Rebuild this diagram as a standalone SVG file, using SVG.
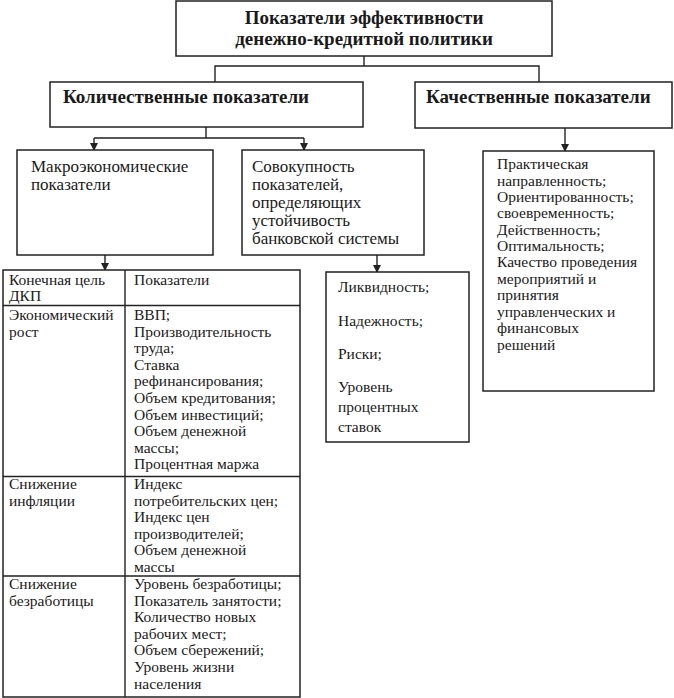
<svg xmlns="http://www.w3.org/2000/svg" width="674" height="698" viewBox="0 0 674 698">
<style>
.box{fill:#fff;stroke:#222;stroke-width:1.5}
.ln{fill:none;stroke:#222;stroke-width:1.4}
text{fill:#1a1a1a;font-family:'Liberation Serif','Times New Roman',serif}
.t{font-size:15.5px}
.m{font-size:17px}
.b{font-size:19px;font-weight:bold}
</style>
<defs>
<marker id="ar" markerWidth="8" markerHeight="8" refX="7" refY="4" orient="auto" markerUnits="userSpaceOnUse">
<path d="M0,0 L8,4 L0,8 Z" fill="#222"/>
</marker>
</defs>
<rect width="674" height="698" fill="#fff"/>
<g id="connectors">
<path class="ln" d="M364,56 V66 M215,82 V66 H539 V82"/>
<path class="ln" d="M206,127 V138 H304 M206,138 H94"/>
<path class="ln" d="M94,138 V150" marker-end="url(#ar)"/>
<path class="ln" d="M304,138 V150" marker-end="url(#ar)"/>
<path class="ln" d="M565,128 V151" marker-end="url(#ar)"/>
<path class="ln" d="M105,255 V270" marker-end="url(#ar)"/>
<path class="ln" d="M377,255 V272" marker-end="url(#ar)"/>
</g>
<g id="root">
<rect class="box" x="176" y="1" width="376" height="55"/>
<text class="b" x="364" y="24" text-anchor="middle">Показатели эффективности</text>
<text class="b" x="364" y="45" text-anchor="middle">денежно-кредитной политики</text>
</g>
<g id="quant">
<rect class="box" x="50" y="82" width="313" height="45"/>
<text class="b" x="63" y="103">Количественные показатели</text>
</g>
<g id="qual">
<rect class="box" x="415" y="82" width="257" height="46"/>
<text class="b" x="426" y="103">Качественные показатели</text>
</g>
<g id="macro">
<rect class="box" x="17" y="150" width="196" height="105"/>
<text class="m" x="31" y="172">Макроэкономические</text>
<text class="m" x="31" y="190">показатели</text>
</g>
<g id="bank">
<rect class="box" x="242" y="150" width="182" height="105"/>
<text class="m" x="252" y="172">Совокупность</text>
<text class="m" x="252" y="190">показателей,</text>
<text class="m" x="252" y="208">определяющих</text>
<text class="m" x="252" y="226">устойчивость</text>
<text class="m" x="252" y="244">банковской системы</text>
</g>
<g id="practical">
<rect class="box" x="483" y="151" width="171" height="240"/>
<text class="t" x="497" y="169">Практическая</text>
<text class="t" x="497" y="185.5">направленность;</text>
<text class="t" x="497" y="202">Ориентированность;</text>
<text class="t" x="497" y="218">своевременность;</text>
<text class="t" x="497" y="234.5">Действенность;</text>
<text class="t" x="497" y="251">Оптимальность;</text>
<text class="t" x="497" y="267">Качество проведения</text>
<text class="t" x="497" y="283.5">мероприятий и</text>
<text class="t" x="497" y="300">принятия</text>
<text class="t" x="497" y="316.5">управленческих и</text>
<text class="t" x="497" y="333">финансовых</text>
<text class="t" x="497" y="349.5">решений</text>
</g>
<g id="liquidity">
<rect class="box" x="326" y="272" width="143" height="170"/>
<text class="t" x="338" y="292">Ликвидность;</text>
<text class="t" x="338" y="326">Надежность;</text>
<text class="t" x="338" y="358.5">Риски;</text>
<text class="t" x="338" y="392">Уровень</text>
<text class="t" x="338" y="412">процентных</text>
<text class="t" x="338" y="432">ставок</text>
</g>
<g id="table">
<rect class="box" x="3" y="270" width="297" height="427"/>
<path class="ln" d="M125,270 V697 M3,305.5 H300 M3,476.5 H300 M3,576 H300"/>
<text class="t" x="9" y="285">Конечная цель</text>
<text class="t" x="9" y="301">ДКП</text>
<text class="t" x="134" y="285">Показатели</text>
<text class="t" x="9" y="320">Экономический</text>
<text class="t" x="9" y="336.6">рост</text>
<text class="t" x="134" y="320">ВВП;</text>
<text class="t" x="134" y="336.6">Производительность</text>
<text class="t" x="134" y="353.2">труда;</text>
<text class="t" x="134" y="369.8">Ставка</text>
<text class="t" x="134" y="386.4">рефинансирования;</text>
<text class="t" x="134" y="403">Объем кредитования;</text>
<text class="t" x="134" y="419.6">Объем инвестиций;</text>
<text class="t" x="134" y="436.2">Объем денежной</text>
<text class="t" x="134" y="452.8">массы;</text>
<text class="t" x="134" y="469.4">Процентная маржа</text>
<text class="t" x="9" y="489">Снижение</text>
<text class="t" x="9" y="505.6">инфляции</text>
<text class="t" x="134" y="489">Индекс</text>
<text class="t" x="134" y="505.6">потребительских цен;</text>
<text class="t" x="134" y="522.2">Индекс цен</text>
<text class="t" x="134" y="538.8">производителей;</text>
<text class="t" x="134" y="555.4">Объем денежной</text>
<text class="t" x="134" y="572">массы</text>
<text class="t" x="9" y="589">Снижение</text>
<text class="t" x="9" y="605.6">безработицы</text>
<text class="t" x="134" y="589">Уровень безработицы;</text>
<text class="t" x="134" y="605.6">Показатель занятости;</text>
<text class="t" x="134" y="622.2">Количество новых</text>
<text class="t" x="134" y="638.8">рабочих мест;</text>
<text class="t" x="134" y="655.4">Объем сбережений;</text>
<text class="t" x="134" y="672">Уровень жизни</text>
<text class="t" x="134" y="688.6">населения</text>
</g>
</svg>
